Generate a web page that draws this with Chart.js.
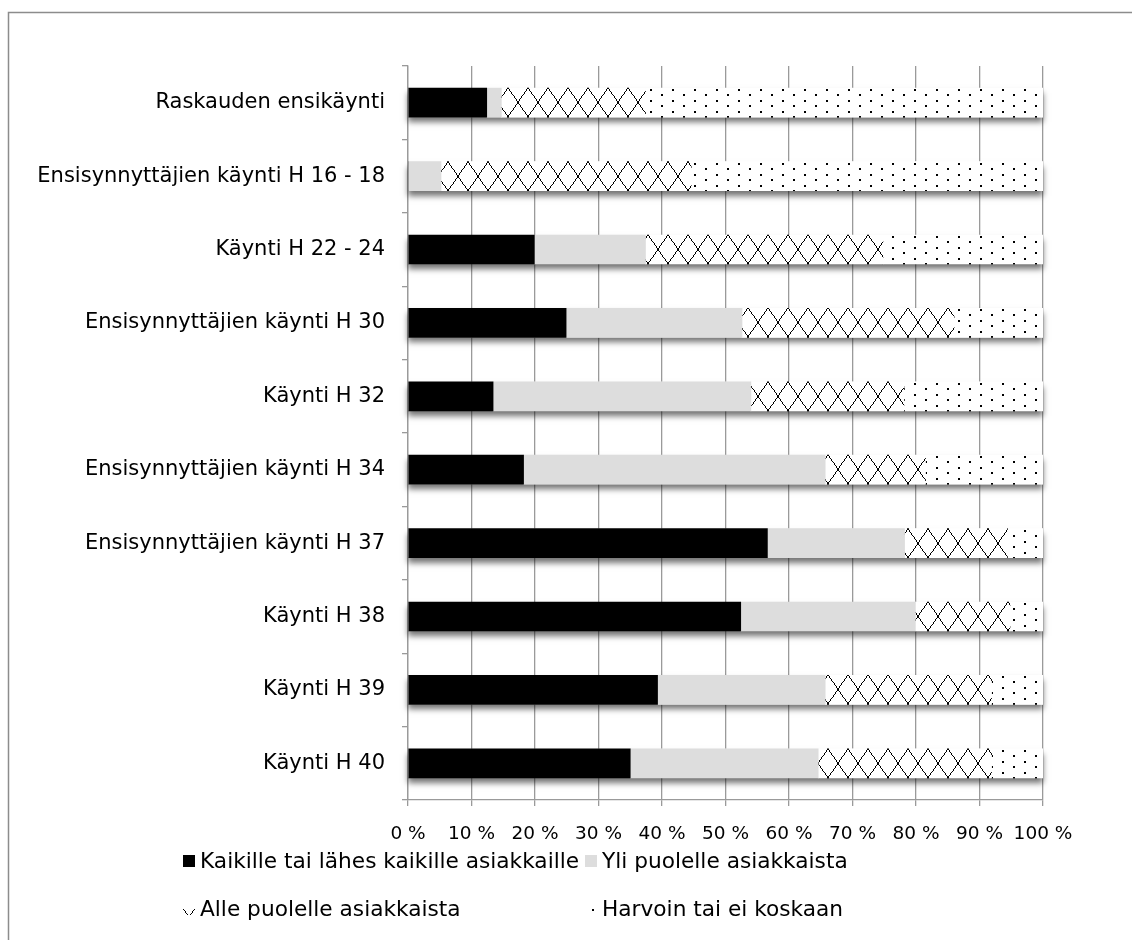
<!DOCTYPE html>
<html><head><meta charset="utf-8">
<script src="https://cdn.jsdelivr.net/npm/chart.js@4/dist/chart.umd.min.js"></script>
<style>html,body{margin:0;padding:0;background:#fff;overflow:hidden}canvas{display:block}</style>
</head><body>
<canvas id="c" width="1132" height="940"></canvas>
<script>
// ---- data ----
const categories = [
  'Raskauden ensikäynti',
  'Ensisynnyttäjien käynti H 16 - 18',
  'Käynti H 22 - 24',
  'Ensisynnyttäjien käynti H 30',
  'Käynti H 32',
  'Ensisynnyttäjien käynti H 34',
  'Ensisynnyttäjien käynti H 37',
  'Käynti H 38',
  'Käynti H 39',
  'Käynti H 40'
];
const seriesNames = [
  'Kaikille tai lähes kaikille asiakkaille',
  'Yli puolelle asiakkaista',
  'Alle puolelle asiakkaista',
  'Harvoin tai ei koskaan'
];
const kaikille = [12.4, 0.0, 19.9, 24.9, 13.4, 18.2, 56.6, 52.4, 39.3, 35.0];
const yliPuolelle = [2.3, 5.2, 17.5, 27.7, 40.6, 47.5, 21.6, 27.5, 26.4, 29.6];
const allePuolelle = [22.7, 39.4, 37.4, 33.4, 24.1, 15.8, 16.2, 14.9, 26.2, 27.3];
const harvoin = [62.6, 55.4, 25.2, 14.0, 21.9, 18.5, 5.6, 5.2, 8.1, 8.1];
const xTickValues = [0, 10, 20, 30, 40, 50, 60, 70, 80, 90, 100];

// ---- styles ----
const FONT = 'DejaVu Sans';
const BAR_THICK = 29;
const GRID = '#9a9a9a';

function crossTile() {
  const W = 20, H = BAR_THICK;
  const c = document.createElement('canvas'); c.width = W; c.height = H;
  const g = c.getContext('2d');
  g.fillStyle = '#fff'; g.fillRect(0, 0, W, H);
  g.fillStyle = '#000';
  for (let y = 0; y < H; y++) {
    const xa = Math.round(y * W / H), xb = Math.round((y + 1) * W / H);
    const w = Math.max(1, xb - xa);
    g.fillRect(xa, y, w, 1);
    g.fillRect(W - xa - w, y, w, 1);
  }
  return c;
}
function dotTile() {
  const c = document.createElement('canvas'); c.width = 22; c.height = 11;
  const g = c.getContext('2d');
  g.fillStyle = '#fff'; g.fillRect(0, 0, 22, 11);
  g.fillStyle = '#000';
  g.fillRect(0, 1, 2, 2); g.fillRect(11, 6, 2, 2);
  return c;
}
const CROSS = crossTile();
const DOTS = dotTile();

function aligned(tile, dy) {
  return function (ctx) {
    const chart = ctx.chart;
    const pat = chart.ctx.createPattern(tile, 'repeat');
    if (ctx.type === 'data' && chart.scales && chart.scales.y) {
      const yc = chart.scales.y.getPixelForValue(ctx.dataIndex);
      const top = Math.round(yc - BAR_THICK / 2);
      const left = Math.round(chart.scales.x.getPixelForValue(0));
      pat.setTransform(new DOMMatrix([1, 0, 0, 1, left, top + dy]));
    }
    return pat;
  };
}

const frame = {
  id: 'frame',
  beforeDraw(chart) {
    const ctx = chart.ctx;
    ctx.save();
    ctx.fillStyle = '#fff';
    ctx.fillRect(0, 0, chart.width, chart.height);
    ctx.strokeStyle = '#8c8c8c';
    ctx.lineWidth = 1.5;
    ctx.strokeRect(8.5, 12.5, 1400, 1400);
    ctx.restore();
  }
};

const barShadow = {
  id: 'barShadow',
  beforeDatasetsDraw(chart) {
    const ctx = chart.ctx, xs = chart.scales.x, meta = chart.getDatasetMeta(0);
    ctx.save();
    ctx.shadowColor = 'rgba(0,0,0,0.55)';
    ctx.shadowBlur = 6;
    ctx.shadowOffsetY = 5;
    ctx.fillStyle = '#fff';
    meta.data.forEach((bar, i) => {
      const total = chart.data.datasets.reduce((s, d) => s + d.data[i], 0);
      const x0 = xs.getPixelForValue(0), x1 = xs.getPixelForValue(total);
      const h = bar.height;
      ctx.fillRect(x0, bar.y - h / 2, x1 - x0, h);
    });
    ctx.restore();
  }
};

const customLegend = {
  id: 'customLegend',
  afterDraw(chart) {
    const ctx = chart.ctx;
    const fills = ['#000000', '#dddddd', ctx.createPattern(CROSS, 'repeat'), ctx.createPattern(DOTS, 'repeat')];
    const cols = [183, 585], rows = [861, 909];
    ctx.save();
    ctx.font = '21.7px "' + FONT + '"';
    ctx.textBaseline = 'middle';
    seriesNames.forEach((name, k) => {
      const x = cols[k % 2], y = rows[Math.floor(k / 2)];
      const f = fills[k];
      if (typeof f !== 'string') f.setTransform(new DOMMatrix([1, 0, 0, 1, x - 4, y - 6]));
      ctx.fillStyle = f;
      ctx.fillRect(x, y - 6, 12, 12);
      ctx.fillStyle = '#000';
      ctx.fillText(name, x + 17, y + 1);
    });
    ctx.restore();
  }
};

const chart = new Chart(document.getElementById('c'), {
  type: 'bar',
  data: {
    labels: categories,
    datasets: [
      { label: seriesNames[0], data: kaikille, backgroundColor: '#000000' },
      { label: seriesNames[1], data: yliPuolelle, backgroundColor: '#dddddd' },
      { label: seriesNames[2], data: allePuolelle, backgroundColor: aligned(CROSS, 0) },
      { label: seriesNames[3], data: harvoin, backgroundColor: aligned(DOTS, 0) }
    ]
  },
  options: {
    indexAxis: 'y',
    responsive: false,
    animation: false,
    devicePixelRatio: 1,
    layout: { padding: { left: 0, right: 89, top: 66, bottom: 0 } },
    datasets: { bar: { barThickness: BAR_THICK, borderWidth: 0 } },
    plugins: { legend: { display: false }, tooltip: { enabled: false } },
    scales: {
      x: {
        stacked: true, min: 0, max: 100,
        afterBuildTicks(scale) { scale.ticks = xTickValues.map(v => ({ value: v })); },
        afterFit(scale) { scale.height = 140; },
        grid: { color: GRID, lineWidth: 1.3, tickLength: 6 },
        border: { color: GRID, width: 1.3 },
        ticks: { color: '#000', font: { family: FONT, size: 18.5 }, padding: 17, maxRotation: 0,
          callback: v => v + ' %' }
      },
      y: {
        stacked: true,
        afterFit(scale) { scale.width = 408; },
        grid: { drawOnChartArea: false, offset: true, color: GRID, lineWidth: 1.3, tickLength: 6 },
        border: { color: GRID, width: 1.3 },
        ticks: { color: '#000', font: { family: FONT, size: 21 }, padding: 17 }
      }
    }
  },
  plugins: [frame, barShadow, customLegend]
});
</script>
</body></html>
